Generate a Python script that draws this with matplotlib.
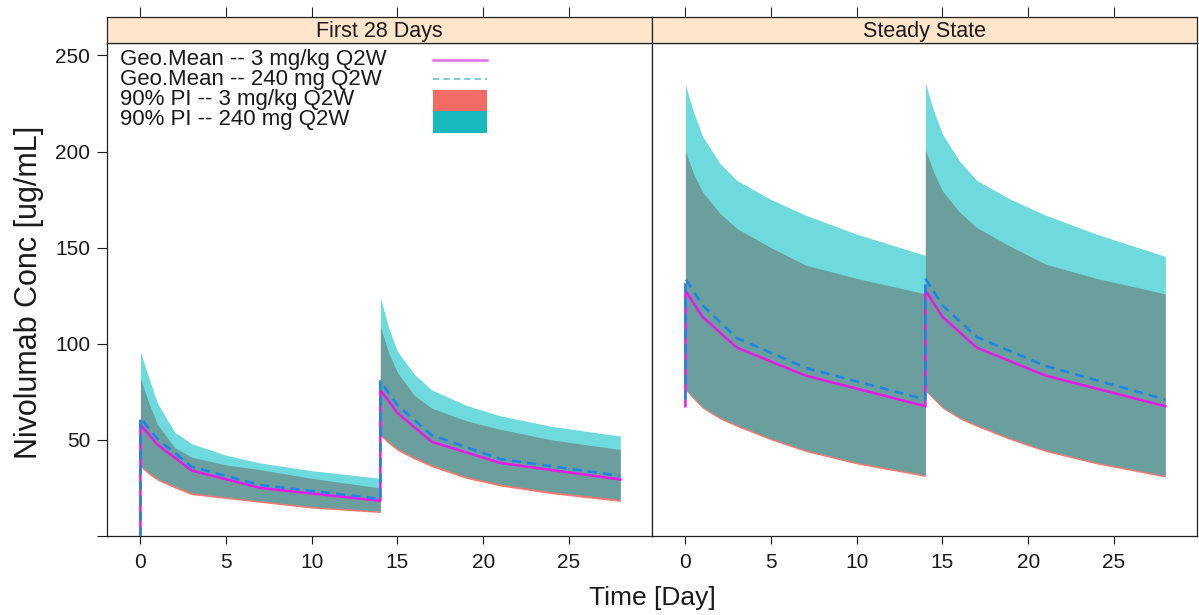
import matplotlib
matplotlib.use("Agg")
import matplotlib.pyplot as plt
from matplotlib.lines import Line2D
from matplotlib.patches import Rectangle

plt.rcParams['font.family'] = ['Liberation Sans', 'DejaVu Sans']

# ---------------- data ----------------
panels = ["First 28 Days", "Steady State"]
legend_labels = ["Geo.Mean -- 3 mg/kg Q2W", "Geo.Mean -- 240 mg Q2W",
                 "90% PI -- 3 mg/kg Q2W", "90% PI -- 240 mg Q2W"]

# time points for geometric mean lines (pre/post dose duplicated at 0 and 14)
t_line = [0, 0, 1, 3, 7, 14, 14, 15, 17, 21, 28]
f28_mean_3 = [0, 58, 47.5, 34, 25, 18.3, 76, 64, 49, 38, 29.4]
f28_mean_240 = [0, 61.5, 50.5, 36, 26.5, 19.3, 80.5, 68, 52.5, 40, 31.3]
ss_mean_3 = [67.5, 127.7, 114, 98, 83.5, 67.5, 128, 114, 98, 83.5, 67.5]
ss_mean_240 = [71, 134, 120, 103, 87.5, 71, 134, 120, 103.5, 88.5, 71]

# time points for 90% prediction intervals
t_band = [0, 0.25, 0.5, 1, 2, 3, 5, 7, 10, 14, 14, 14.25, 14.5, 15, 16, 17, 19, 21, 24, 28]
f28_hi_240 = [96, 89, 82, 69, 54, 48, 42, 38, 34, 30, 124, 116, 108, 96, 84, 76, 68, 62.5, 57, 52]
f28_lo_240 = [37, 35, 33, 30, 26, 22.5, 20.3, 18.3, 15.3, 13, 53, 51, 49, 45.5, 41, 37, 31, 27, 23, 19]
f28_hi_3 = [82, 75.5, 69, 58, 46, 41, 37, 34.5, 30, 25, 109, 102, 95, 85, 73, 66.5, 60, 55.5, 50, 45]
f28_lo_3 = [36, 34, 32, 29, 25, 21.5, 19.5, 17.5, 14.5, 12.2, 52, 50, 48, 44.5, 40, 36, 30, 26, 22, 18]

ss_hi_240 = [235, 227, 220, 208, 194, 185, 175, 167, 157, 146,
             236, 228, 221, 209, 195, 185, 175, 167, 157, 145.5]
ss_lo_240 = [76.8, 74.2, 71.8, 67.3, 61.8, 57.8, 50.8, 44.8, 38.3, 31.8,
             76.3, 74, 71.8, 67.3, 61.8, 57.8, 50.8, 44.8, 38.3, 31.5]
ss_hi_3 = [200, 194, 188, 179, 168, 160, 150, 141, 134, 126,
           201, 195, 189, 179.5, 168.5, 160.5, 150.5, 141.5, 134, 126]
ss_lo_3 = [76, 73.5, 71, 66.5, 61, 57, 50, 44, 37.5, 31,
           75.5, 73.2, 71, 66.5, 61, 57, 50, 44, 37.5, 30.7]

x_ticks = [0, 5, 10, 15, 20, 25]
y_ticks = [0, 50, 100, 150, 200, 250]
y_ticklabels = ["", "50", "100", "150", "200", "250"]

panel_data = [
    (f28_mean_3, f28_mean_240, f28_hi_3, f28_lo_3, f28_hi_240, f28_lo_240),
    (ss_mean_3, ss_mean_240, ss_hi_3, ss_lo_3, ss_hi_240, ss_lo_240),
]

# ---------------- style ----------------
C_SALMON = "#F8766D"
C_TEAL = "#00BFC4"
C_MAG = "#E619E6"
C_BLUE = "#1E86E8"
C_STRIP = "#FFE5CC"
TXT = "#1a1a1a"

W, H = 1199, 615
fig = plt.figure(figsize=(W / 100, H / 100), dpi=100)

left_px = [107, 652]
pw = 545
top_px, bot_px = 43, 536
strip_top = 17

xlim = (-1.95, 29.85)
ylim = (0, 256.5)

for i, (name, dat) in enumerate(zip(panels, panel_data)):
    m3, m240, hi3, lo3, hi240, lo240 = dat
    ax = fig.add_axes([left_px[i] / W, 1 - bot_px / H, pw / W, (bot_px - top_px) / H])
    ax.fill_between(t_band, lo3, hi3, color=C_SALMON, lw=0, zorder=1)
    ax.fill_between(t_band, lo240, hi240, color=C_TEAL, alpha=0.57, lw=0, zorder=2)
    ax.plot(t_line, m3, color=C_MAG, lw=1.8, zorder=3)
    ax.plot(t_line, m240, color=C_BLUE, lw=1.9, ls=(0, (3.5, 2.3)), zorder=4)
    ax.set_xlim(*xlim)
    ax.set_ylim(*ylim)
    ax.set_xticks(x_ticks)
    ax.set_xticklabels([str(v) for v in x_ticks])
    ax.tick_params(axis='x', direction='out', length=6, width=0.8, pad=6,
                   labelsize=15, colors=TXT)
    if i == 0:
        ax.set_yticks(y_ticks)
        ax.set_yticklabels(y_ticklabels)
        ax.tick_params(axis='y', direction='out', length=7, width=0.8, pad=5,
                       labelsize=15, colors=TXT)
    else:
        ax.set_yticks([])
    for s in ax.spines.values():
        s.set_linewidth(0.9)
        s.set_color("#222222")

    # strip
    sax = fig.add_axes([left_px[i] / W, 1 - top_px / H, pw / W, (top_px - strip_top) / H])
    sax.set_facecolor(C_STRIP)
    sax.set_xlim(*xlim)
    sax.set_ylim(0, 1)
    sax.set_yticks([])
    sax.set_xticks(x_ticks)
    sax.xaxis.set_ticks_position('top')
    sax.tick_params(axis='x', direction='out', length=7, width=0.8, labeltop=False,
                    labelbottom=False, colors="#222222")
    for s in sax.spines.values():
        s.set_linewidth(0.9)
        s.set_color("#222222")
    sax.text(0.5, 0.45, name, transform=sax.transAxes, ha='center', va='center',
             fontsize=15.5, color=TXT)

    if i == 0:
        # legend (drawn manually, lattice-style key)
        def fy(py):
            return 1 - (py - top_px) / (bot_px - top_px)
        rows_px = [60, 79, 100, 120]
        for lab, ry in zip(legend_labels, rows_px):
            ax.text(13 / pw, fy(ry), lab, transform=ax.transAxes, ha='left',
                    va='center', fontsize=16, color=TXT, zorder=6)
        kx0, kx1 = (433 - 107) / pw, (487 - 107) / pw
        ax.add_line(Line2D([kx0, kx1], [fy(60), fy(60)], transform=ax.transAxes,
                           color="#E070E8", lw=1.8, zorder=6))
        ax.add_line(Line2D([kx0, kx1], [fy(79), fy(79)], transform=ax.transAxes,
                           color="#80C8E8", lw=1.5, ls=(0, (3, 2)), zorder=6))
        ax.add_patch(Rectangle((kx0, fy(111)), kx1 - kx0, fy(90) - fy(111),
                               transform=ax.transAxes, color="#F06C64", lw=0, zorder=6))
        ax.add_patch(Rectangle((kx0, fy(133)), kx1 - kx0, fy(111) - fy(133),
                               transform=ax.transAxes, color="#17B9BD", lw=0, zorder=6))

fig.text(652 / W, 1 - 598 / H, "Time [Day]", ha='center', va='center',
         fontsize=19, color=TXT)
fig.text(29 / W, 1 - 292 / H, "Nivolumab Conc [ug/mL]", ha='center', va='center',
         rotation=90, fontsize=22, color=TXT)

fig.savefig("out.png", dpi=100)
